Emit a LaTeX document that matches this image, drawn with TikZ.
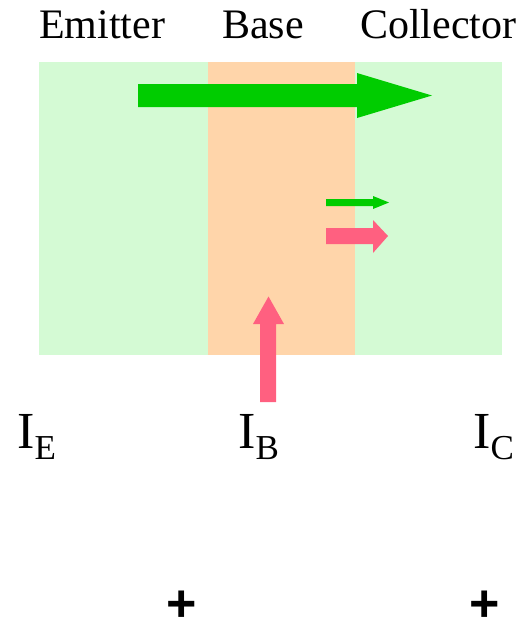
\documentclass[tikz,border=0pt]{standalone}
\usepackage{fontspec}
\setmainfont{Liberation Serif}
\newfontfamily\plusfont{Liberation Sans}
\definecolor{layergreen}{RGB}{212,250,212}
\definecolor{layerorange}{RGB}{255,213,170}
\definecolor{flowgreen}{RGB}{0,204,0}
\definecolor{flowpink}{RGB}{255,96,128}
\tikzset{
  lbl/.style={inner sep=0pt, anchor=base west, font=\fontsize{42}{43}\selectfont},
  cur/.style={inner sep=0pt, anchor=base west},
  plusmark/.style={inner sep=0pt, font=\plusfont\bfseries\fontsize{52}{52}\selectfont}
}
\newcommand{\curlabel}[1]{{\fontsize{52}{52}\selectfont I\raisebox{-11pt}{\fontsize{35}{35}\selectfont #1}}}
\begin{document}
\begin{tikzpicture}[x=1pt,y=-1pt]
\useasboundingbox (0,0) rectangle (529,625);
% layers
\fill[layergreen] (39,62) rectangle (208,355);
\fill[layerorange] (208,62) rectangle (355,355);
\fill[layergreen] (355,62) rectangle (502,355);
% big green arrow
\fill[flowgreen] (138,84) -- (357,84) -- (357,73) -- (432,95.5) -- (357,118) -- (357,107) -- (138,107) -- cycle;
% small green arrow
\fill[flowgreen] (326,199) -- (373,199) -- (373,196) -- (389,202.5) -- (373,209) -- (373,206) -- (326,206) -- cycle;
% pink right arrow
\fill[flowpink] (326,228) -- (373,228) -- (373,220) -- (388,236) -- (373,253) -- (373,244) -- (326,244) -- cycle;
% pink up arrow
\fill[flowpink] (260,402) -- (260,324) -- (253,324) -- (268.5,296.5) -- (284,324) -- (276,324) -- (276,402) -- cycle;
% labels
\node[lbl] (emitter) at (39,38) {Emitter};
\node[lbl] (base) at (222,38) {Base};
\node[lbl] (collector) at (360,38) {Collector};
\node[cur] (ie) at (17,448) {\curlabel{E}};
\node[cur] (ib) at (238,448) {\curlabel{B}};
\node[cur] (ic) at (473,448) {\curlabel{C}};
\node[plusmark] (p1) at (182,606) {+};
\node[plusmark] (p2) at (485,606) {+};
\end{tikzpicture}
\end{document}
